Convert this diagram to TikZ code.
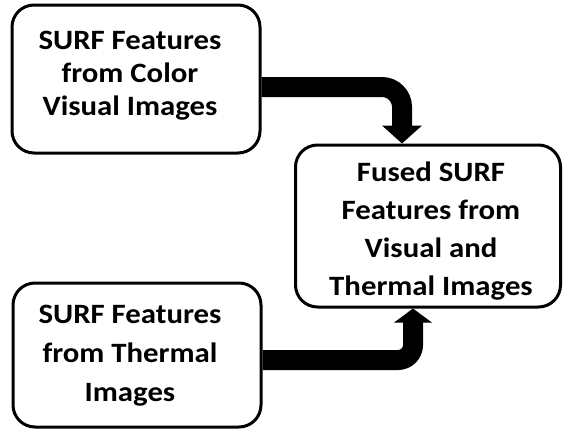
\documentclass[tikz,border=0pt]{standalone}
\usepackage{fontspec}
\setmainfont{Carlito}[FakeStretch=1.1]
\usetikzlibrary{arrows.meta}
\begin{document}
\begin{tikzpicture}[x=1pt,y=-1pt,
  box/.style={draw=black,line width=3pt,rounded corners=22pt,fill=white,inner sep=0pt},
  label/.style={align=center,inner sep=0pt},
  bigarrow/.style={draw=black,line width=20pt}]
\useasboundingbox (0,0) rectangle (563,431);
\node[box,minimum width=248pt,minimum height=148pt] (box1) at (136,79) {};
\node[box,minimum width=248pt,minimum height=144pt] (box2) at (137,355) {};
\node[box,minimum width=265pt,minimum height=162pt] (box3) at (428,226) {};
\node[label,font=\bfseries\fontsize{28}{33}\selectfont] (t1) at ([xshift=-6pt,yshift=3pt]box1.center)
  {SURF Features\\from Color\\Visual Images};
\node[label,font=\bfseries\fontsize{28}{39}\selectfont] (t2) at ([xshift=-7pt,yshift=-1pt]box2.center)
  {SURF Features\\from Thermal\\Images};
\node[label,font=\bfseries\fontsize{28}{38}\selectfont] (t3) at ([xshift=3pt,yshift=-5pt]box3.center)
  {Fused SURF\\Features from\\Visual and\\Thermal Images};
\draw[bigarrow,rounded corners=20pt,-{Triangle[width=39pt,length=18pt]}]
  ([yshift=-8pt]box1.east) -| ([xshift=-26pt]box3.north);
\draw[bigarrow,rounded corners=15pt,-{Triangle[width=37pt,length=14pt]}]
  ([yshift=-5pt]box2.east) -| ([xshift=-15pt]box3.south);
\end{tikzpicture}
\end{document}
